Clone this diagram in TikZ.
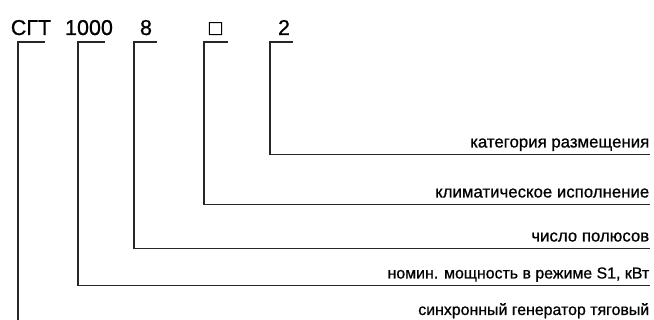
\documentclass[tikz,border=0pt]{standalone}
\usepackage{fontspec}
\setmainfont{Liberation Sans}[FakeBold=0.8]
\usetikzlibrary{calc}
\begin{document}
\begin{tikzpicture}[x=1pt, y=-1pt, line width=1.6pt,
  code/.style={font=\fontsize{21.5}{24}\selectfont, anchor=base, inner sep=0pt},
  lbl/.style={font=\fontsize{16.8}{18}\selectfont, anchor=base east, inner sep=0pt},
  smalllbl/.style={lbl, font=\fontsize{15.9}{18}\selectfont},
  bracket/.style={draw=black!85, line join=miter}]
\useasboundingbox (0,0) rectangle (654,320);

% Draw the designation
\node[code] (sgt) at (31,35) {СГТ};
\node[code] (power) at (89,35) {1000};
\node[code] (poles) at (146,35) {8};
\node[code] (clim) at (215.5,35) {□};
\node[code] (cat) at (284,35) {2};

% Draw the explanations
\node[lbl] (lcat) at (650,147.5) {категория размещения};
\node[lbl] (lclim) at (650,197.5) {климатическое исполнение};
\node[lbl] (lpoles) at (650,241.5) {число полюсов};
\node[smalllbl] (lpower) at (650,278.5) {номин. мощность в режиме S1, кВт};
\node[smalllbl] (lsgt) at (650,315) {синхронный генератор тяговый};

% corners of the brackets
\coordinate (ksgt) at (18,42);
\coordinate (kpower) at (78,42);
\coordinate (kpoles) at (134,42);
\coordinate (kclim) at (204,42);
\coordinate (kcat) at (270,42);
\coordinate (esgt) at (18,320);

% Draw the brackets:
\foreach \n/\w in {cat/23, clim/24, poles/23, power/27}
  \draw[bracket] ($(k\n)+(\w,0)$) -- (k\n) |- ($(l\n.base east)+(0,7)$);
\draw[bracket] ($(ksgt)+(27,0)$) -- (ksgt) -- (esgt);
\end{tikzpicture}
\end{document}
